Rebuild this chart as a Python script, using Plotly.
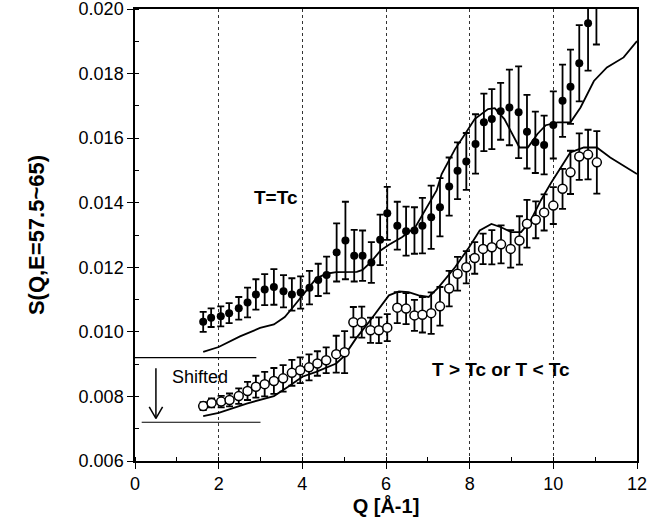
import plotly.graph_objects as go

# ---- data ----
q_tc = [1.63, 1.82, 2.05, 2.25, 2.48, 2.69, 2.89, 3.10, 3.32, 3.55, 3.75, 3.96, 4.17, 4.38, 4.58,
        4.82, 5.03, 5.24, 5.44, 5.65, 5.86, 6.03, 6.27, 6.48, 6.68, 6.87, 7.08, 7.29, 7.51, 7.71,
        7.92, 8.14, 8.34, 8.53, 8.74, 8.95, 9.17, 9.37, 9.57, 9.78, 10.00, 10.22, 10.41, 10.62,
        10.83, 11.03]
s_tc = [0.01031, 0.01044, 0.01048, 0.01058, 0.01073, 0.01091, 0.01116, 0.01131, 0.01139, 0.01126,
        0.01116, 0.01122, 0.01137, 0.01161, 0.01176, 0.01246, 0.01283, 0.01236, 0.01236, 0.01215,
        0.01285, 0.01367, 0.01329, 0.01312, 0.01314, 0.01329, 0.01355, 0.01386, 0.01450, 0.01499,
        0.01528, 0.01582, 0.01649, 0.01659, 0.01683, 0.01695, 0.01680, 0.01620, 0.01587, 0.01579,
        0.01641, 0.01716, 0.01759, 0.01832, 0.01956, 0.02040]
err_tc = [0.00031, 0.00029, 0.00031, 0.00031, 0.00035, 0.00046, 0.00047, 0.00048, 0.00055, 0.00050,
          0.00050, 0.00050, 0.00052, 0.00050, 0.00057, 0.00090, 0.00120, 0.00080, 0.00078, 0.00063,
          0.00078, 0.00082, 0.00074, 0.00076, 0.00072, 0.00086, 0.00098, 0.00090, 0.00090, 0.00088,
          0.00088, 0.00092, 0.00089, 0.00093, 0.00088, 0.00117, 0.00142, 0.00114, 0.00095, 0.00091,
          0.00104, 0.00112, 0.00115, 0.00118, 0.00147, 0.00150]

q_off = [1.63, 1.83, 2.06, 2.26, 2.48, 2.69, 2.89, 3.10, 3.32, 3.54, 3.75, 3.95, 4.16, 4.36, 4.57,
         4.81, 5.01, 5.22, 5.42, 5.63, 5.83, 6.03, 6.27, 6.48, 6.68, 6.87, 7.08, 7.29, 7.51, 7.71,
         7.92, 8.12, 8.32, 8.53, 8.75, 8.98, 9.19, 9.37, 9.58, 9.78, 10.00, 10.22, 10.41, 10.62,
         10.83, 11.04]
s_off = [0.00770, 0.00780, 0.00784, 0.00789, 0.00801, 0.00817, 0.00830, 0.00838, 0.00848, 0.00856,
         0.00873, 0.00881, 0.00890, 0.00902, 0.00912, 0.00931, 0.00937, 0.01030, 0.01030, 0.01005,
         0.01005, 0.01013, 0.01075, 0.01072, 0.01051, 0.01053, 0.01058, 0.01079, 0.01134, 0.01180,
         0.01200, 0.01229, 0.01257, 0.01262, 0.01271, 0.01257, 0.01283, 0.01335, 0.01347, 0.01370,
         0.01391, 0.01443, 0.01494, 0.01543, 0.01549, 0.01525]
err_off = [0.00012, 0.00014, 0.00018, 0.00020, 0.00024, 0.00028, 0.00034, 0.00038, 0.00040, 0.00041,
           0.00040, 0.00040, 0.00040, 0.00038, 0.00040, 0.00057, 0.00065, 0.00047, 0.00048, 0.00039,
           0.00040, 0.00042, 0.00048, 0.00048, 0.00048, 0.00055, 0.00064, 0.00060, 0.00055, 0.00052,
           0.00050, 0.00049, 0.00047, 0.00053, 0.00059, 0.00058, 0.00075, 0.00074, 0.00057, 0.00056,
           0.00057, 0.00062, 0.00067, 0.00072, 0.00077, 0.00097]

q_model_tc = [1.63, 2.00, 2.51, 2.99, 3.32, 3.58, 3.78, 4.00, 4.33, 4.57, 4.81, 5.30, 5.44, 5.63,
              5.87, 6.07, 6.38, 6.70, 6.94, 7.21, 7.33, 7.65, 7.89, 8.12, 8.44, 8.60, 8.83, 9.03,
              9.19, 9.39, 9.62, 9.82, 10.10, 10.41, 10.65, 10.97, 11.28, 11.68, 12.00]
s_model_tc = [0.00938, 0.00953, 0.00986, 0.01012, 0.01023, 0.01046, 0.01077, 0.01113, 0.01165,
              0.01180, 0.01185, 0.01186, 0.01192, 0.01215, 0.01252, 0.01270, 0.01293, 0.01324,
              0.01376, 0.01438, 0.01489, 0.01566, 0.01613, 0.01659, 0.01690, 0.01693, 0.01659,
              0.01608, 0.01571, 0.01571, 0.01613, 0.01640, 0.01649, 0.01649, 0.01695, 0.01777,
              0.01819, 0.01850, 0.01901]

q_model_off = [1.63, 2.00, 2.67, 3.32, 3.66, 4.00, 4.33, 4.81, 5.00, 5.28, 5.59, 5.87, 6.07, 6.31,
               6.54, 6.78, 7.02, 7.25, 7.65, 7.96, 8.24, 8.52, 8.75, 8.99, 9.23, 9.46, 9.70, 9.94,
               10.18, 10.41, 10.73, 11.04, 11.36, 11.68, 12.00]
s_model_off = [0.00739, 0.00749, 0.00778, 0.00801, 0.00830, 0.00861, 0.00876, 0.00902, 0.00925,
               0.00979, 0.01030, 0.01078, 0.01113, 0.01125, 0.01123, 0.01113, 0.01108, 0.01137,
               0.01200, 0.01257, 0.01314, 0.01334, 0.01324, 0.01309, 0.01309, 0.01345, 0.01407,
               0.01460, 0.01510, 0.01556, 0.01571, 0.01571, 0.01540, 0.01515, 0.01489]

x_ticks = [0, 2, 4, 6, 8, 10, 12]
x_tick_labels = ["0", "2", "4", "6", "8", "10", "12"]
y_ticks = [0.006, 0.008, 0.010, 0.012, 0.014, 0.016, 0.018, 0.020]
y_tick_labels = ["0.006", "0.008", "0.010", "0.012", "0.014", "0.016", "0.018", "0.020"]

# shift indicator (data coordinates)
shift_upper = dict(x0=0.0, x1=2.9, y=0.0092)
shift_lower = dict(x0=0.16, x1=3.0, y=0.0072)
arrow = dict(x=0.5, ytop=0.00887, ybot=0.00732, head_dx=0.16, head_y=0.00768)

FONT = "Liberation Sans, Arial, Helvetica, sans-serif"

fig = go.Figure()

fig.add_trace(go.Scatter(x=q_model_tc, y=s_model_tc, mode="lines",
                         line=dict(color="black", width=1.8), showlegend=False))
fig.add_trace(go.Scatter(x=q_model_off, y=s_model_off, mode="lines",
                         line=dict(color="black", width=1.8), showlegend=False))

fig.add_trace(go.Scatter(
    x=q_tc, y=s_tc, mode="markers", showlegend=False,
    marker=dict(symbol="circle", size=8, color="black"),
    error_y=dict(type="data", array=err_tc, visible=True, color="black", thickness=1.8, width=3.5),
))
fig.add_trace(go.Scatter(
    x=q_off, y=s_off, mode="markers", showlegend=False,
    marker=dict(symbol="circle", size=9, color="white", line=dict(color="black", width=1.5)),
    error_y=dict(type="data", array=err_off, visible=True, color="black", thickness=1.8, width=3.5),
))

line_style = dict(color="black", width=1.2)
fig.add_shape(type="line", xref="x", yref="y", x0=shift_upper["x0"], x1=shift_upper["x1"],
              y0=shift_upper["y"], y1=shift_upper["y"], line=line_style)
fig.add_shape(type="line", xref="x", yref="y", x0=shift_lower["x0"], x1=shift_lower["x1"],
              y0=shift_lower["y"], y1=shift_lower["y"], line=line_style)
fig.add_shape(type="line", xref="x", yref="y", x0=arrow["x"], x1=arrow["x"],
              y0=arrow["ytop"], y1=arrow["ybot"], line=dict(color="black", width=1.5))
fig.add_shape(type="line", xref="x", yref="y", x0=arrow["x"] - arrow["head_dx"], x1=arrow["x"],
              y0=arrow["head_y"], y1=arrow["ybot"], line=dict(color="black", width=1.5))
fig.add_shape(type="line", xref="x", yref="y", x0=arrow["x"] + arrow["head_dx"], x1=arrow["x"],
              y0=arrow["head_y"], y1=arrow["ybot"], line=dict(color="black", width=1.5))

fig.add_annotation(x=3.38, y=0.01417, xref="x", yref="y", text="T=Tc", showarrow=False,
                   font=dict(family=FONT, size=19, color="black", weight="bold"))
fig.add_annotation(x=8.75, y=0.00883, xref="x", yref="y", text="T &gt; Tc or T &lt; Tc",
                   showarrow=False, font=dict(family=FONT, size=19, color="black", weight="bold"))
fig.add_annotation(x=1.55, y=0.00860, xref="x", yref="y", text="Shifted", showarrow=False,
                   font=dict(family=FONT, size=18, color="black"))

axis_common = dict(showline=True, linecolor="black", linewidth=1.5, mirror=True,
                   ticks="outside", ticklen=6, tickwidth=1.2, tickcolor="black",
                   zeroline=False, automargin=False, ticklabeloverflow="allow",
                   tickfont=dict(family=FONT, size=18, color="black"))

fig.update_xaxes(range=[0, 12], tickmode="array", tickvals=x_ticks, ticktext=x_tick_labels,
                 showgrid=True, gridcolor="#333333", gridwidth=1, griddash="dot",
                 minor=dict(ticks="inside", ticklen=4, dtick=1, tickcolor="black", showgrid=False),
                 title=dict(text="Q [Å-1]", standoff=6,
                            font=dict(family=FONT, size=20, color="black", weight="bold")),
                 **axis_common)
fig.update_yaxes(range=[0.006, 0.020], tickmode="array", tickvals=y_ticks, ticktext=y_tick_labels,
                 showgrid=False,
                 minor=dict(ticks="inside", ticklen=4, dtick=0.001, tickcolor="black", showgrid=False),
                 title=dict(text="S(Q,E=57.5~65)", standoff=28,
                            font=dict(family=FONT, size=22, color="black", weight="bold")),
                 **axis_common)

fig.update_layout(width=661, height=520, margin=dict(l=135, r=24, t=9, b=59),
                  paper_bgcolor="white", plot_bgcolor="white", showlegend=False)

fig.write_html("out.html", config={"displayModeBar": False},
               post_script="document.body.style.margin='0';document.body.style.overflow='hidden';")
